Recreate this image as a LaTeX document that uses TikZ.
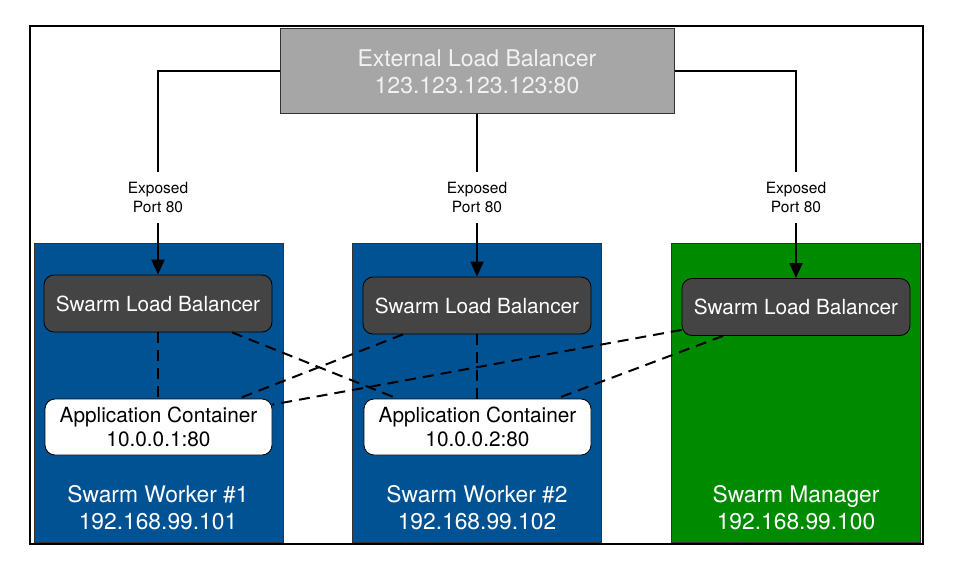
\documentclass[tikz,border=0pt]{standalone}
\usepackage{fontspec}
\setmainfont{TeX Gyre Heros}
\usetikzlibrary{arrows.meta,calc}
\definecolor{wblue}{RGB}{0,82,147}
\definecolor{mgreen}{RGB}{0,138,0}
\definecolor{lbgray}{RGB}{68,68,68}
\definecolor{extgray}{RGB}{166,166,166}
\tikzset{
  hostbox/.style={draw=black!80, line width=0.8pt, minimum width=249pt, minimum height=299pt, inner sep=0pt},
  lbbox/.style={draw=black, line width=0.8pt, fill=lbgray, rounded corners=10pt, minimum width=228pt, minimum height=57pt, text=white, font=\fontsize{20.8}{24}\selectfont, inner sep=0pt},
  appbox/.style={draw=black, line width=0.8pt, fill=white, rounded corners=10pt, minimum width=227pt, minimum height=56pt, align=center, font=\fontsize{20.8}{24}\selectfont, inner sep=0pt},
  hostlab/.style={text=white, align=center, font=\fontsize{22.8}{27}\selectfont},
  explab/.style={align=center, font=\fontsize{15.5}{19}\selectfont, minimum height=51pt, inner sep=0pt},
  conn/.style={line width=2pt},
  dashlink/.style={line width=2pt, dash pattern=on 11pt off 7pt},
  arr/.style={line width=2pt, -{Triangle[width=13pt,length=15pt]}}
}
\begin{document}
\begin{tikzpicture}[x=1pt,y=-1pt]
\useasboundingbox (0,0) rectangle (966,564);
% outer frame
\node[draw=black, line width=2pt, minimum width=893pt, minimum height=518pt, inner sep=0pt] (frame) at (476.5,285) {};
% external LB
\node[draw=black!80, line width=1pt, fill=extgray, minimum width=394pt, minimum height=85pt, inner sep=0pt, text=white!95!black, align=center, font=\fontsize{23}{27}\selectfont] (ext) at (477,71.5) {External Load Balancer\\123.123.123.123:80};
% host boxes
\node[hostbox, fill=wblue] (w1) at (158.5,392.5) {};
\node[hostbox, fill=wblue] (w2) at (477,392.5) {};
\node[hostbox, fill=mgreen] (mgr) at (796,392.5) {};
% exposed labels
\node[explab] (e1) at (158,197.5) {Exposed\\Port 80};
\node[explab] (e2) at (477,197.5) {Exposed\\Port 80};
\node[explab] (e3) at (796,197.5) {Exposed\\Port 80};
% swarm LBs
\node[lbbox] (lb1) at (158,303.5) {Swarm Load Balancer};
\node[lbbox] (lb2) at (477,305.5) {Swarm Load Balancer};
\node[lbbox] (lb3) at (796,307) {Swarm Load Balancer};
% app containers
\node[appbox] (app1) at (158.5,427) {Application Container\\10.0.0.1:80};
\node[appbox] (app2) at (477.5,427) {Application Container\\10.0.0.2:80};
% host labels
\node[hostlab] (w1l) at (158,507.5) {Swarm Worker \#1\\192.168.99.101};
\node[hostlab] (w2l) at (477,507.5) {Swarm Worker \#2\\192.168.99.102};
\node[hostlab] (mgrl) at (796,507.5) {Swarm Manager\\192.168.99.100};
% connectors
\draw[conn] (ext.west) -| (e1.north);
\draw[conn] (ext.south) -- (e2.north);
\draw[conn] (ext.east) -| (e3.north);
\draw[arr] (e1.south) -- (lb1.north);
\draw[arr] (e2.south) -- (lb2.north);
\draw[arr] (e3.south) -- (lb3.north);
% dashed links
\draw[dashlink] (lb1.south) -- (lb1.south |- app1.north);
\draw[dashlink] (lb2.south) -- (lb2.south |- app2.north);
\draw[dashlink] ($(lb1.south)+(74,0)$) -- ($(app2.north)+(-80,0)$);
\draw[dashlink] ($(lb2.south)+(-74,0)$) -- ($(app1.north)+(80,0)$);
\draw[dashlink] ($(lb3.south west)+(0,-6)$) -- ($(app1.north east)+(0,6)$);
\draw[dashlink] ($(lb3.south)+(-73,0)$) -- ($(app2.north)+(79,0)$);
\end{tikzpicture}
\end{document}
